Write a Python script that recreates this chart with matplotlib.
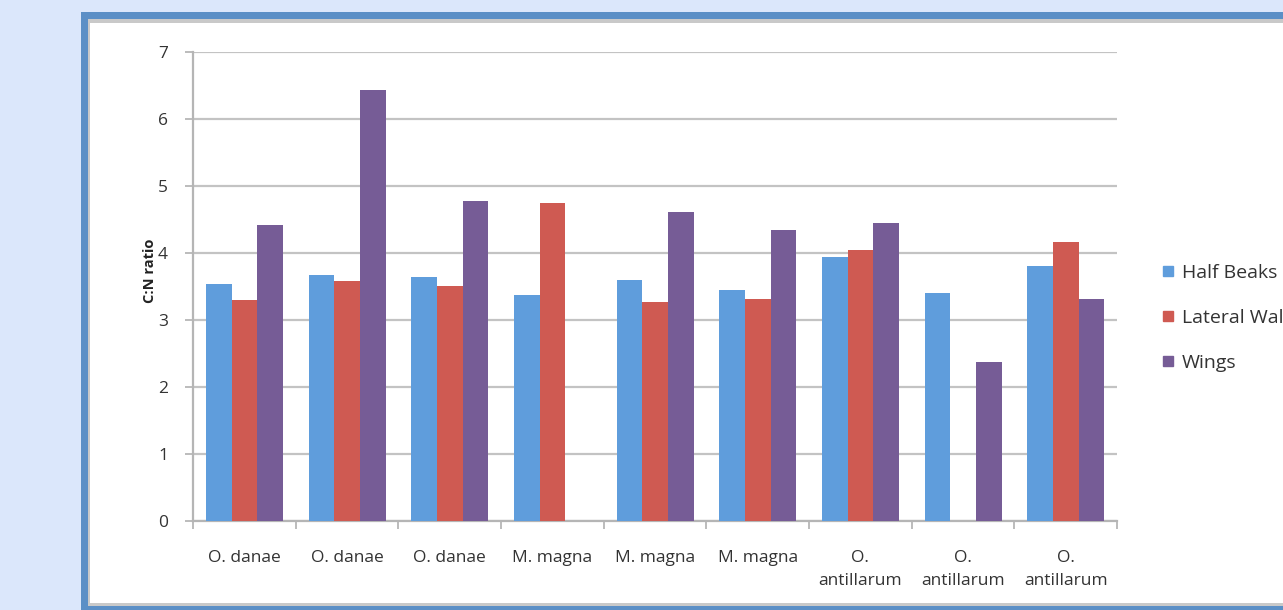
import numpy as np
import matplotlib
matplotlib.use('Agg')
import matplotlib.pyplot as plt
from matplotlib.patches import Rectangle
from matplotlib.lines import Line2D

species = ['O. danae', 'O. danae', 'O. danae', 'M. magna', 'M. magna',
           'M. magna', 'O.\nantillarum', 'O.\nantillarum', 'O.\nantillarum']
half_beaks = [3.54, 3.67, 3.64, 3.37, 3.60, 3.45, 3.94, 3.40, 3.81]
lateral_walls = [3.30, 3.58, 3.51, 4.75, 3.27, 3.31, 4.04, np.nan, 4.16]
wings = [4.42, 6.43, 4.78, np.nan, 4.61, 4.34, 4.45, 2.37, 3.31]

series = [('Half Beaks', half_beaks, '#5f9ddc'),
          ('Lateral Walls', lateral_walls, '#cf5a52'),
          ('Wings', wings, '#765c96')]

W, H = 1283, 610
plt.rcParams['font.family'] = ['Open Sans', 'DejaVu Sans']


def fx(px):
    return px / W


def fy(py):
    return 1 - py / H


def panel(fig, x0, y0, y1, color):
    fig.patches.append(Rectangle((fx(x0), fy(y1)), fx(1400) - fx(x0), fy(y0) - fy(y1),
                                 transform=fig.transFigure, facecolor=color,
                                 edgecolor='none', zorder=-5))


def main():
    fig = plt.figure(figsize=(W / 100, H / 100), dpi=100, facecolor='#dbe7fb')

    # framed white panel
    panel(fig, 81, 12, 640, '#5b8fc6')
    panel(fig, 88, 19, 606, '#c9c9c9')
    panel(fig, 90, 23, 603, 'white')

    ax = fig.add_axes([fx(193), fy(521), fx(1117) - fx(193), fy(52) - fy(521)])
    ax.set_facecolor('none')

    x = np.arange(len(species))
    width = 0.25
    for i, (name, vals, col) in enumerate(series):
        ax.bar(x + (i - 1) * width, vals, width, color=col, label=name, zorder=3)

    ax.set_xlim(-0.5, len(species) - 0.5)
    ax.set_ylim(0, 7)
    ax.set_yticks(range(0, 8))
    ax.set_xticks(x)
    ax.set_xticklabels(species, fontsize=12.5, color='#333333', linespacing=1.55)
    ax.set_xticks(np.arange(-0.5, len(species)), minor=True)
    ax.tick_params(axis='x', which='major', length=0, pad=21)
    ax.tick_params(axis='x', which='minor', length=6, width=1.2, color='#b0b0b0', direction='out')
    ax.tick_params(axis='y', length=6, width=1.2, color='#b0b0b0', pad=12,
                   labelsize=12.5, labelcolor='#333333')

    ax.grid(axis='y', color='#c3c3c3', linewidth=1.6, zorder=0)
    for side in ('top', 'right'):
        ax.spines[side].set_visible(False)
    for side in ('left', 'bottom'):
        ax.spines[side].set_color('#b5b5b5')
        ax.spines[side].set_linewidth(1.6)

    ax.set_ylabel('C:N ratio', fontsize=10.5, fontweight='bold', color='#222222')
    ax.yaxis.set_label_coords(-0.039, 0.533)

    handles = [Line2D([], [], marker='s', linestyle='none', markersize=6.5,
                      markerfacecolor=col, markeredgecolor=col) for _, _, col in series]
    fig.legend(handles, [s[0] for s in series], loc='center left',
               bbox_to_anchor=(fx(1152), fy(318)), frameon=False, fontsize=14,
               handlelength=0.6, handletextpad=0.45, labelspacing=1.4, borderpad=0,
               labelcolor='#333333')

    fig.savefig('out.png', dpi=100, facecolor=fig.get_facecolor())


if __name__ == '__main__':
    main()
